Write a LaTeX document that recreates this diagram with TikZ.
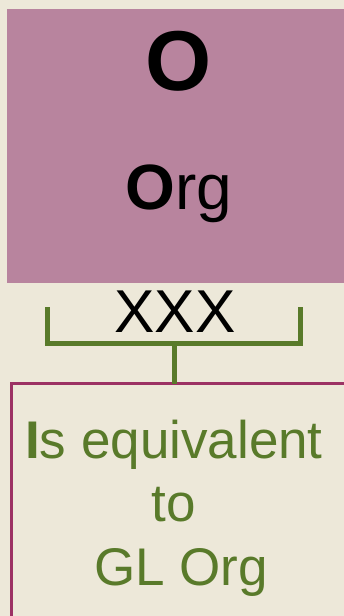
\documentclass[tikz,border=0pt]{standalone}
\usepackage{fontspec}
\setmainfont{Liberation Sans}
\usepackage{tikz}
\usetikzlibrary{positioning}
\definecolor{bgcream}{RGB}{237,232,217}
\definecolor{orgfill}{RGB}{184,132,158}
\definecolor{leafgreen}{RGB}{89,122,42}
\definecolor{plumline}{RGB}{156,50,100}

\begin{document}
\begin{tikzpicture}[
    x=1pt, y=-1pt,
    font=\normalfont,
    orgbox/.style={
		rectangle,
		fill=orgfill,
		minimum width=344pt,
		minimum height=274pt,
		inner sep=0pt,
		outer sep=0pt
	},
	equivbox/.style={
		rectangle,
		draw=plumline,
		line width=3pt,
		minimum width=360pt,
		minimum height=260pt,
		inner sep=0pt,
		outer sep=0pt
	},
	bracket/.style={
		draw=leafgreen,
		line width=5pt
	},
	equivtext/.style={
		text=leafgreen,
		align=center,
		font=\fontsize{53}{63.5}\selectfont
	}
  ]
  % page and background
  \useasboundingbox (0,0) rectangle (344,616);
  \clip (0,0) rectangle (344,616);
  \fill [bgcream] (0,0) rectangle (344,616);

  % the blocks
  \node [orgbox, anchor=north west] (org) at (7,9) {};
  \node [anchor=base, font=\fontsize{85}{100}\selectfont\bfseries] (orgletter) at (179,90) {O};
  \node [anchor=base, font=\fontsize{64}{76}\selectfont] (orgname) at (179,209) {\textbf{O}rg};

  \node [equivbox, anchor=north west] (equiv) at (11.5,383.5) {};
  % base of a multi-line node is its last line
  \node [equivtext, anchor=base] (equivname) at (174,585) {%
  \textbf{I}s equivalent\\to\\\hspace*{14pt}GL Org};

  % the bracket
  \node [anchor=base, font=\fontsize{60.5}{72}\selectfont] (xxx) at (175,332) {XXX};
  \coordinate (brleft) at (47,307);
  \coordinate (brright) at (300.5,307);
  \coordinate (brmid) at (174,343);
  \draw [bracket] (brleft) |- (brmid) -| (brright);
  \draw [bracket] (brmid) -- (brmid |- equiv.north);

\end{tikzpicture}
\end{document}
